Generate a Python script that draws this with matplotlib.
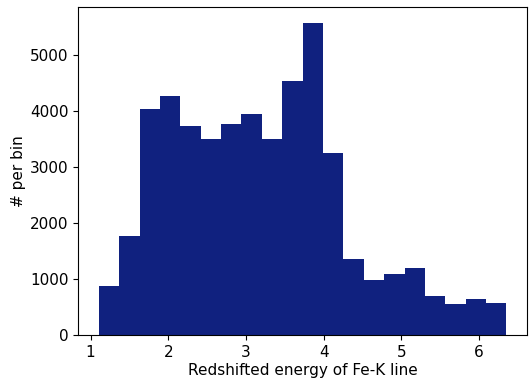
import numpy as np
import matplotlib
matplotlib.use("Agg")
import matplotlib.pyplot as plt

# Bin edges and counts
bin_start = 1.107
bin_stop = 6.354
n_bins = 20
counts = [880, 1768, 4036, 4268, 3732, 3500, 3768, 3947, 3500, 4536,
          5572, 3250, 1357, 982, 1089, 1197, 697, 554, 643, 571]

edges = np.linspace(bin_start, bin_stop, n_bins + 1)

plt.rcParams["font.size"] = 11

fig, ax = plt.subplots(figsize=(5.3, 3.79), dpi=100)
ax.hist(edges[:-1], bins=edges, weights=counts, color="#10217f")

ax.set_xlabel("Redshifted energy of Fe-K line", labelpad=2.6)
ax.set_ylabel("# per bin", labelpad=2.6)

fig.subplots_adjust(left=0.148, right=0.994, top=0.9815, bottom=0.116)
fig.savefig("out.png", dpi=100)
